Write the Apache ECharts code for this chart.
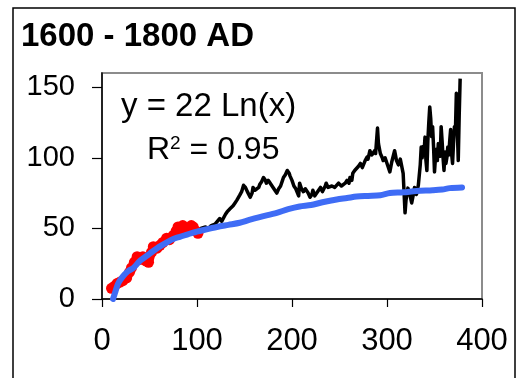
<!DOCTYPE html>
<html>
<head>
<meta charset="utf-8">
<script src="https://cdn.jsdelivr.net/npm/echarts@6/dist/echarts.min.js"></script>
<style>
  html, body { margin: 0; padding: 0; background: #fff; }
  #chart { width: 516px; height: 378px; }
</style>
</head>
<body>
<div id="chart"></div>
<script>
// Early period (red), x = index, y = value
const earlyX = [10, 13, 16, 19, 22, 26, 29, 31, 34, 37, 40, 43, 46, 49, 52, 54, 58, 61, 64, 68, 71, 75, 78, 80, 83, 85, 88, 91, 94, 96, 99, 101];
const earlyY = [7.6, 9, 11, 12, 13, 15, 19, 22, 26, 30, 28, 30, 27, 26, 33, 37, 36, 38, 40, 43, 42, 45, 48, 51, 49, 52, 50, 49, 52, 51, 48, 46.5];

// Later period (black)
const lateX = [101, 104, 106, 109, 112, 115, 117, 119, 121, 124, 126, 128, 130, 132, 135, 138, 140, 142, 145, 147,
  149, 151, 153, 154, 156, 158, 159, 161, 163, 165, 166, 168, 170, 172, 173, 175, 177, 179, 180, 182, 184, 186, 188,
  190, 191, 193, 195, 197, 198, 200, 202, 204, 207, 208, 210, 212, 214, 215, 217, 219, 221, 222, 224, 226, 228, 230,
  232, 233, 235, 236, 238, 240, 242, 243, 245, 247, 249, 250, 252, 254, 256, 258, 260, 261, 263, 264, 266, 268, 270,
  272, 274, 275, 277, 279, 280, 282, 284, 285, 287, 288, 290, 291, 293, 295, 296, 298, 299, 301, 303, 305, 306, 308,
  310, 312, 314, 316, 317, 319, 320, 322, 324, 326, 328, 329, 331, 333, 335, 336, 337, 338, 339, 340, 341, 342, 343,
  344, 345, 346, 347, 348, 349, 350, 351, 352, 353, 354, 355, 356, 357, 358, 359, 360, 361, 362, 363, 364, 365, 366,
  367, 368, 369, 370, 371, 372, 373, 374, 375, 376, 377];
const lateY = [48, 50, 49, 51, 50, 52, 51, 53, 53, 57, 55, 56, 60, 62, 64, 66, 68, 70, 73.5, 76,
  80.5, 79, 76, 77, 72, 75, 79, 77, 76, 79, 81, 83, 86, 84, 82, 84, 83, 80, 79, 77, 75, 78, 80,
  84, 86, 88, 91, 89, 87, 84, 80, 78, 73, 82, 78, 76, 78, 79, 75, 72, 74, 77, 73, 75, 77, 79,
  76, 77, 80, 82, 79, 78, 80, 81, 79, 79, 82, 83, 80, 80, 82, 84, 82, 86, 84, 89, 91, 92, 94,
  96, 93, 94, 98, 100.5, 99, 105, 102, 103, 105, 103, 121, 110, 103, 100, 98, 100, 99, 94, 90, 97, 96, 105,
  98, 95, 99, 100, 89, 61, 70, 78.5, 74, 68, 75, 79, 74, 80.6, 95, 107.6, 100, 108, 104, 114.6, 98, 91, 112,
  125, 136, 128, 115, 122, 108, 90, 100, 106, 98, 110, 104, 101, 122, 112, 100, 91, 104, 96, 100, 107.6, 102,
  112, 120, 103, 96, 110, 122, 118, 145.6, 120, 98, 130, 156];

// Fitted trend (blue)
const fitX = [11.6, 14, 17, 22, 27, 33, 40, 50, 58, 68, 75, 82, 96, 108, 121, 133, 145, 155, 166, 184, 196, 208,
  220, 232, 247, 258, 268, 280, 293, 303, 317, 331, 348, 358, 366, 379];
const fitY = [0, 5, 11, 16, 19.5, 22, 27, 32, 36, 40, 42.5, 44, 47, 49, 51, 52.5, 54, 56, 58, 61, 63.6, 65.5,
  66.5, 68.5, 70.5, 71.5, 72.5, 73, 73.5, 75, 75.5, 76.5, 77, 77.5, 78.5, 79];

const xTicks = [0, 100, 200, 300, 400];
const yTicks = [0, 50, 100, 150];

const pairs = (xs, ys) => xs.map((x, i) => [x, ys[i]]);

const chart = echarts.init(document.getElementById('chart'), null, { renderer: 'canvas' });
const FONT = '"Liberation Sans", Arial, sans-serif';

chart.setOption({
  animation: false,
  backgroundColor: '#ffffff',
  grid: {
    left: 102, right: 34, top: 73, bottom: 79,
    show: true, borderColor: '#8c8c8c', borderWidth: 2, backgroundColor: 'transparent'
  },
  xAxis: {
    type: 'value', min: 0, max: 400, interval: 100,
    axisLine: { show: true, lineStyle: { color: '#000', width: 1.5 } },
    axisTick: { show: true, length: 8, lineStyle: { color: '#000', width: 1.2 }, customValues: xTicks },
    axisLabel: { color: '#000', fontFamily: FONT, fontSize: 31, margin: 27, customValues: xTicks },
    splitLine: { show: false }
  },
  yAxis: {
    type: 'value', min: 0, max: 160, interval: 50,
    axisLine: { show: true, lineStyle: { color: '#000', width: 1.5 } },
    axisTick: { show: true, length: 10, lineStyle: { color: '#000', width: 1.2 }, customValues: yTicks },
    axisLabel: { color: '#000', fontFamily: FONT, fontSize: 29, margin: 27, customValues: yTicks },
    splitLine: { show: false }
  },
  graphic: [
    { type: 'rect', shape: { x: 13, y: 8, width: 502, height: 400 },
      style: { fill: 'none', stroke: '#000', lineWidth: 1.5 }, silent: true },
    { type: 'text', left: 21, top: 20,
      style: { text: '1600 - 1800 AD', fontFamily: FONT, fontSize: 33, fontWeight: 'bold', fill: '#000' } },
    { type: 'text', left: 121, top: 90, z: 10,
      style: { text: 'y = 22 Ln(x)', fontFamily: FONT, fontSize: 33, fill: '#000' } },
    { type: 'text', left: 147, top: 134, z: 10,
      style: {
        text: 'R{s|2} = 0.95', fontFamily: FONT, fontSize: 32, fill: '#000',
        rich: { s: { fontSize: 19, fontFamily: FONT, fill: '#000', verticalAlign: 'top', padding: [0, 0, 14, 0] } }
      } }
  ],
  series: [
    {
      name: 'early', type: 'line', data: pairs(earlyX, earlyY),
      symbol: 'circle', symbolSize: 11, itemStyle: { color: '#ff0000' },
      lineStyle: { color: '#ff0000', width: 9, join: 'round' }, z: 3
    },
    {
      name: 'late', type: 'line', data: pairs(lateX, lateY),
      symbol: 'none', lineStyle: { color: '#000', width: 3.5, join: 'round' }, z: 2
    },
    {
      name: 'fit', type: 'line', data: pairs(fitX, fitY), smooth: 0.3,
      symbol: 'none', lineStyle: { color: '#3f6cf5', width: 6, cap: 'round' }, z: 4
    }
  ]
});
</script>
</body>
</html>
